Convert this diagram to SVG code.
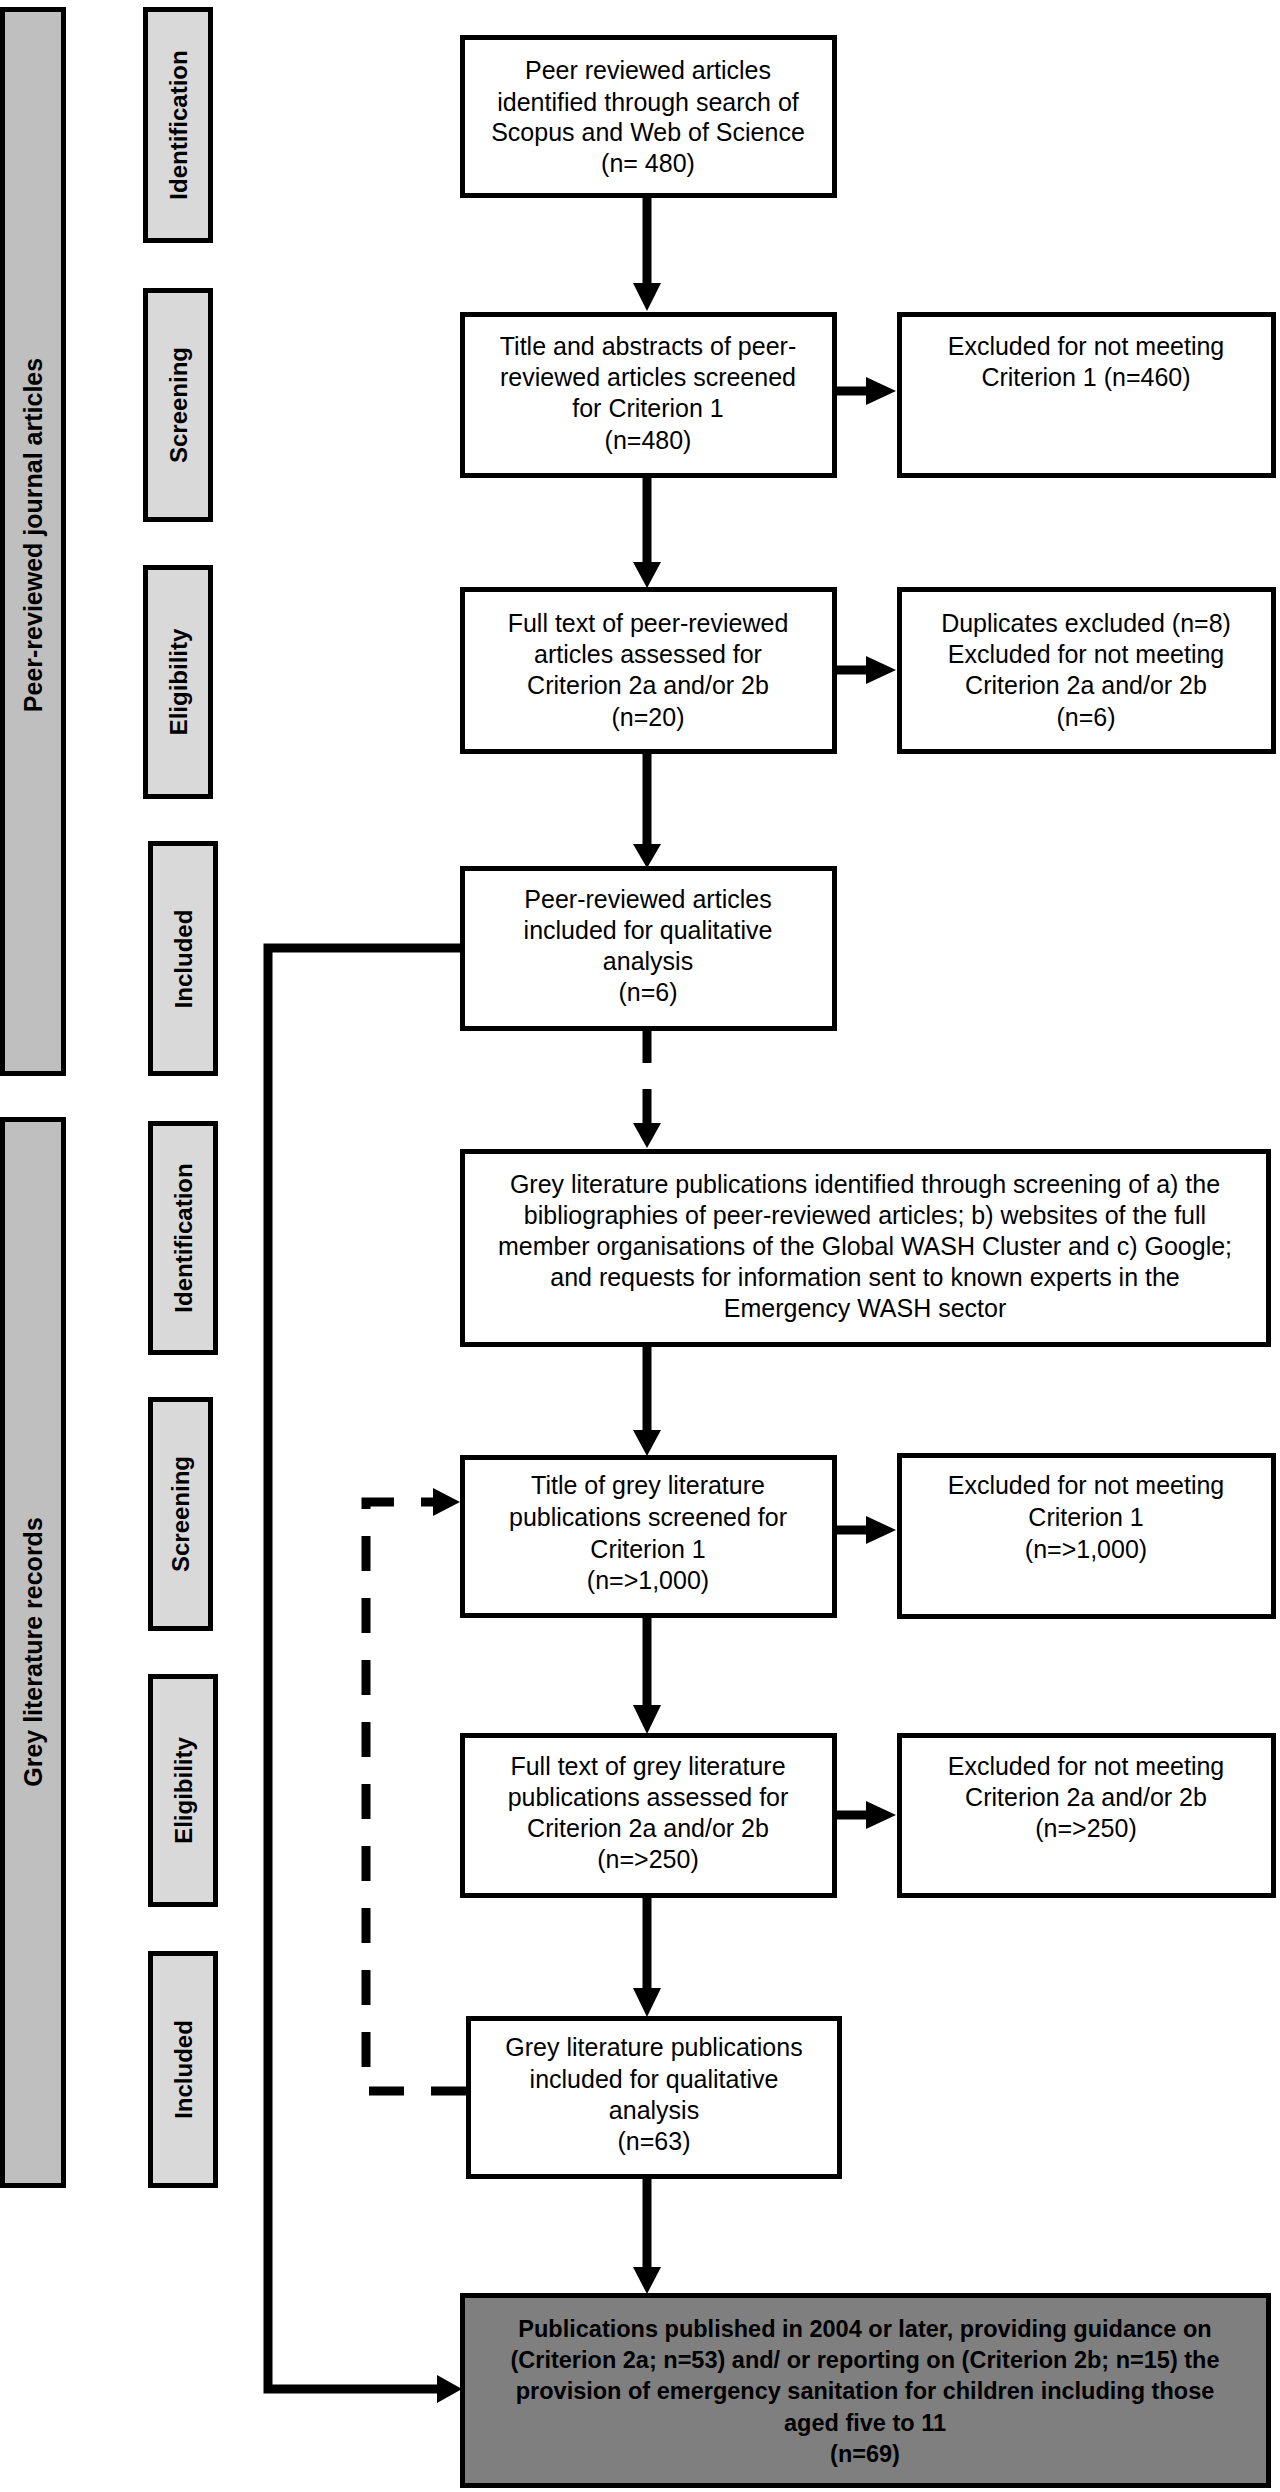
<svg xmlns="http://www.w3.org/2000/svg" width="1280" height="2492" viewBox="0 0 1280 2492">
<style>
.bar{fill:#bfbfbf;stroke:#000;stroke-width:5}
.phase{fill:#d9d9d9;stroke:#000;stroke-width:5}
.box{fill:#fff;stroke:#000;stroke-width:5}
.final{fill:#7f7f7f;stroke:#000;stroke-width:5}
.lbl{font-family:"Liberation Sans",Arial,sans-serif;font-weight:bold;font-size:24px;text-anchor:middle;fill:#000}
.big{font-family:"Liberation Sans",Arial,sans-serif;font-weight:bold;font-size:25px;text-anchor:middle;fill:#000}
.t{font-family:"Liberation Sans",Arial,sans-serif;font-size:25px;text-anchor:middle;fill:#000}
.tb{font-family:"Liberation Sans",Arial,sans-serif;font-weight:bold;font-size:23.5px;text-anchor:middle;fill:#000}
.sh{fill:none;stroke:#000;stroke-width:9;stroke-linejoin:miter}
.dash{fill:none;stroke:#000;stroke-width:9;stroke-dasharray:35 27}
.head{fill:#000}
</style>
<rect width="1280" height="2492" fill="#fff"/>

<g id="bar-peer"><rect class="bar" x="2.5" y="9.5" width="61" height="1064"/>
<text class="big" x="33" y="543.5" transform="rotate(-90 33 535)">Peer-reviewed journal articles</text></g>
<g id="bar-grey"><rect class="bar" x="2.5" y="1119.5" width="61" height="1066"/>
<text class="big" x="33" y="1660.5" transform="rotate(-90 33 1652)">Grey literature records</text></g>

<g id="phase-p-ident"><rect class="phase" x="145.5" y="9.5" width="65" height="231"/>
<text class="lbl" x="178" y="133.5" transform="rotate(-90 178 125)">Identification</text></g>
<g id="phase-p-screen"><rect class="phase" x="145.5" y="290.5" width="65" height="229"/>
<text class="lbl" x="178" y="413.5" transform="rotate(-90 178 405)">Screening</text></g>
<g id="phase-p-elig"><rect class="phase" x="145.5" y="567.5" width="65" height="229"/>
<text class="lbl" x="178" y="690.5" transform="rotate(-90 178 682)">Eligibility</text></g>
<g id="phase-p-incl"><rect class="phase" x="150.5" y="843.5" width="65" height="230"/>
<text class="lbl" x="183" y="967.5" transform="rotate(-90 183 959)">Included</text></g>

<g id="phase-g-ident"><rect class="phase" x="150.5" y="1123.5" width="65" height="229"/>
<text class="lbl" x="183" y="1246.5" transform="rotate(-90 183 1238)">Identification</text></g>
<g id="phase-g-screen"><rect class="phase" x="150.5" y="1399.5" width="60" height="229"/>
<text class="lbl" x="180.5" y="1522.5" transform="rotate(-90 180.5 1514)">Screening</text></g>
<g id="phase-g-elig"><rect class="phase" x="150.5" y="1676.5" width="65" height="228"/>
<text class="lbl" x="183" y="1799" transform="rotate(-90 183 1790.5)">Eligibility</text></g>
<g id="phase-g-incl"><rect class="phase" x="150.5" y="1953.5" width="65" height="232"/>
<text class="lbl" x="183" y="2078" transform="rotate(-90 183 2069.5)">Included</text></g>

<g id="connectors">
<line class="sh" x1="647" y1="198" x2="647" y2="285"/>
<polygon class="head" points="633,283 661,283 647,311"/>
<line class="sh" x1="837" y1="391" x2="868" y2="391"/>
<polygon class="head" points="866,377 866,405 896,391"/>
<line class="sh" x1="647" y1="478" x2="647" y2="564"/>
<polygon class="head" points="633,562 661,562 647,588"/>
<line class="sh" x1="837" y1="670" x2="868" y2="670"/>
<polygon class="head" points="866,656 866,684 896,670"/>
<line class="sh" x1="647" y1="754" x2="647" y2="846"/>
<polygon class="head" points="633,844 661,844 647,868"/>
<line class="sh" x1="647" y1="1031" x2="647" y2="1063"/>
<line class="sh" x1="647" y1="1089" x2="647" y2="1125"/>
<polygon class="head" points="633,1123 661,1123 647,1148"/>
<line class="sh" x1="647" y1="1347" x2="647" y2="1432"/>
<polygon class="head" points="633,1430 661,1430 647,1456"/>
<line class="sh" x1="837" y1="1530" x2="868" y2="1530"/>
<polygon class="head" points="866,1516 866,1544 896,1530"/>
<line class="sh" x1="647" y1="1618" x2="647" y2="1707"/>
<polygon class="head" points="633,1705 661,1705 647,1734"/>
<line class="sh" x1="837" y1="1815" x2="868" y2="1815"/>
<polygon class="head" points="866,1801 866,1829 896,1815"/>
<line class="sh" x1="647" y1="1898" x2="647" y2="1990"/>
<polygon class="head" points="633,1988 661,1988 647,2017"/>
<line class="sh" x1="647" y1="2179" x2="647" y2="2269"/>
<polygon class="head" points="633,2267 661,2267 647,2294"/>
<path class="sh" d="M462 948 H268 V2389 H439"/>
<polygon class="head" points="437,2375 437,2403 462,2389"/>
<path class="dash" d="M466 2091 H366 V1502 H436"/>
<polygon class="head" points="433,1488 433,1516 460,1502"/>
</g>

<g id="n1"><rect class="box" x="462.5" y="37.5" width="372" height="158"/>
<text class="t" x="648" y="79">Peer reviewed articles</text>
<text class="t" x="648" y="111">identified through search of</text>
<text class="t" x="648" y="141">Scopus and Web of Science</text>
<text class="t" x="648" y="172">(n= 480)</text></g>

<g id="n2"><rect class="box" x="462.5" y="314.5" width="372" height="161"/>
<text class="t" x="648" y="355">Title and abstracts of peer-</text>
<text class="t" x="648" y="386">reviewed articles screened</text>
<text class="t" x="648" y="417">for Criterion 1</text>
<text class="t" x="648" y="449">(n=480)</text></g>

<g id="x1"><rect class="box" x="899.5" y="314.5" width="374" height="161"/>
<text class="t" x="1086" y="355">Excluded for not meeting</text>
<text class="t" x="1086" y="386">Criterion 1 (n=460)</text></g>

<g id="n3"><rect class="box" x="462.5" y="589.5" width="372" height="162"/>
<text class="t" x="648" y="632">Full text of peer-reviewed</text>
<text class="t" x="648" y="663">articles assessed for</text>
<text class="t" x="648" y="694">Criterion 2a and/or 2b</text>
<text class="t" x="648" y="726">(n=20)</text></g>

<g id="x2"><rect class="box" x="899.5" y="589.5" width="374" height="162"/>
<text class="t" x="1086" y="632">Duplicates excluded (n=8)</text>
<text class="t" x="1086" y="663">Excluded for not meeting</text>
<text class="t" x="1086" y="694">Criterion 2a and/or 2b</text>
<text class="t" x="1086" y="726">(n=6)</text></g>

<g id="n4"><rect class="box" x="462.5" y="868.5" width="372" height="160"/>
<text class="t" x="648" y="908">Peer-reviewed articles</text>
<text class="t" x="648" y="939">included for qualitative</text>
<text class="t" x="648" y="970">analysis</text>
<text class="t" x="648" y="1001">(n=6)</text></g>

<g id="n5"><rect class="box" x="462.5" y="1151.5" width="806" height="193"/>
<text class="t" x="865" y="1193">Grey literature publications identified through screening of a) the</text>
<text class="t" x="865" y="1224">bibliographies of peer-reviewed articles; b) websites of the full</text>
<text class="t" x="865" y="1255">member organisations of the Global WASH Cluster and c) Google;</text>
<text class="t" x="865" y="1286">and requests for information sent to known experts in the</text>
<text class="t" x="865" y="1317">Emergency WASH sector</text></g>

<g id="n6"><rect class="box" x="462.5" y="1457.5" width="372" height="158"/>
<text class="t" x="648" y="1494">Title of grey literature</text>
<text class="t" x="648" y="1526">publications screened for</text>
<text class="t" x="648" y="1558">Criterion 1</text>
<text class="t" x="648" y="1589">(n=&gt;1,000)</text></g>

<g id="x3"><rect class="box" x="899.5" y="1455.5" width="374" height="161"/>
<text class="t" x="1086" y="1494">Excluded for not meeting</text>
<text class="t" x="1086" y="1526">Criterion 1</text>
<text class="t" x="1086" y="1558">(n=&gt;1,000)</text></g>

<g id="n7"><rect class="box" x="462.5" y="1735.5" width="372" height="160"/>
<text class="t" x="648" y="1775">Full text of grey literature</text>
<text class="t" x="648" y="1806">publications assessed for</text>
<text class="t" x="648" y="1837">Criterion 2a and/or 2b</text>
<text class="t" x="648" y="1868">(n=&gt;250)</text></g>

<g id="x4"><rect class="box" x="899.5" y="1735.5" width="374" height="160"/>
<text class="t" x="1086" y="1775">Excluded for not meeting</text>
<text class="t" x="1086" y="1806">Criterion 2a and/or 2b</text>
<text class="t" x="1086" y="1837">(n=&gt;250)</text></g>

<g id="n8"><rect class="box" x="468.5" y="2018.5" width="371" height="158"/>
<text class="t" x="654" y="2056">Grey literature publications</text>
<text class="t" x="654" y="2088">included for qualitative</text>
<text class="t" x="654" y="2119">analysis</text>
<text class="t" x="654" y="2150">(n=63)</text></g>

<g id="n9"><rect class="final" x="462.5" y="2295.5" width="806" height="190"/>
<text class="tb" x="865" y="2337">Publications published in 2004 or later, providing guidance on</text>
<text class="tb" x="865" y="2368">(Criterion 2a; n=53) and/ or reporting on (Criterion 2b; n=15) the</text>
<text class="tb" x="865" y="2399">provision of emergency sanitation for children including those</text>
<text class="tb" x="865" y="2431">aged five to 11</text>
<text class="tb" x="865" y="2462">(n=69)</text></g>
</svg>
